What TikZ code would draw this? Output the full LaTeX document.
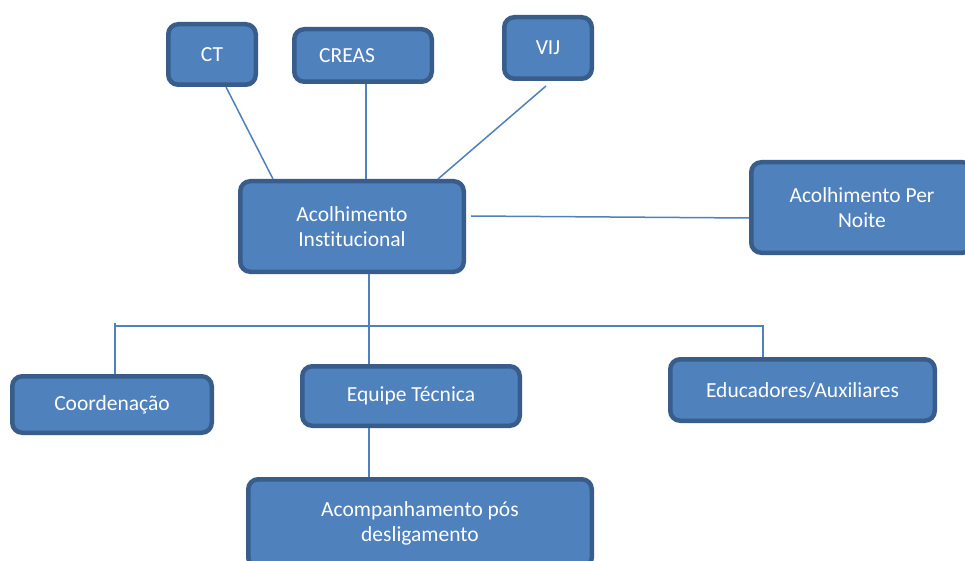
\documentclass[tikz,border=0pt]{standalone}
\usepackage{fontspec}
\setmainfont{Carlito}[Ligatures=NoCommon]
\definecolor{boxfill}{HTML}{4F81BD}
\definecolor{boxline}{HTML}{385D8A}
\begin{document}
\begin{tikzpicture}[x=1pt,y=-1pt,
  box/.style={draw=boxline, fill=boxfill, line width=4.5pt, rounded corners=10pt,
    text=white, font=\fontsize{21.5}{25}\selectfont, inner sep=0pt, align=center},
  link/.style={draw=boxfill, line width=1.5pt}]
\useasboundingbox (0,0) rectangle (965,561);
\clip (0,0) rectangle (965,561);
\fill[white] (0,0) rectangle (965,561);
\node[box, minimum width=87.5, minimum height=60.5] (ct) at (212,54.5) {CT};
\node[box, minimum width=137.5, minimum height=52.5] (creas) at (363,55.5) {CREAS\hspace*{32pt}};
\node[box, minimum width=87.5, minimum height=61.5] (vij) at (548,48) {VIJ};
\node[box, minimum width=223.5, minimum height=90.5] (acol) at (352,226.5) {Acolhimento\\Institucional};
\node[box, minimum width=221.5, minimum height=90.5] (noite) at (862,207.5) {Acolhimento Per\\Noite};
\node[box, minimum width=199.5, minimum height=56.5] (coord) at (112,404.5) {Coordenação};
\node[box, minimum width=217.5, minimum height=59.5] (equipe) at (411,396) {Equipe Técnica};
\node[box, minimum width=264.5, minimum height=61.5] (educ) at (802.5,390) {Educadores/Auxiliares};
\node[box, minimum width=343.5, minimum height=88.5] (acomp) at (420,523.5) {Acompanhamento pós\\desligamento};
\coordinate (busL) at (115,326);
\coordinate (busR) at (763,326);
\draw[link] ([xshift=14pt]ct.south) -- ([xshift=-79pt]acol.north);
\draw[link] ([xshift=3pt]creas.south) -- ([xshift=14pt]acol.north);
\draw[link] ([xshift=-2pt,yshift=-5pt]vij.south) -- ([xshift=86pt]acol.north);
\draw[link] ([xshift=5pt,yshift=10.5pt]acol.east) -- ([yshift=-10.5pt]noite.west);
\draw[link] ([xshift=17pt]acol.south) -- ([xshift=-42pt]equipe.north);
\draw[link] ([xshift=3pt]coord.north) -- ([yshift=3pt]busL) -- (busL) -- (busR) -- ([xshift=-39.5pt]educ.north);
\draw[link] ([xshift=-42pt]equipe.south) -- ([xshift=-51pt]acomp.north);
\end{tikzpicture}
\end{document}
